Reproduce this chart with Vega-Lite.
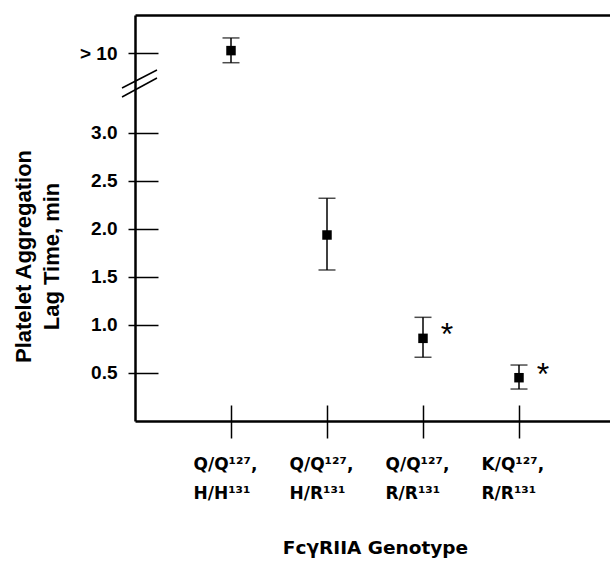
{
  "$schema": "https://vega.github.io/schema/vega-lite/v6.json",
  "autosize": "none",
  "padding": {"left": 135, "top": 15, "right": 0, "bottom": 141},
  "width": 480,
  "height": 406,
  "datasets": {
    "obs": [
      {"genotype": "Q/Q127, H/H131", "lag": 3.858, "lo": 3.732, "hi": 3.99, "sig": ""},
      {"genotype": "Q/Q127, H/R131", "lag": 1.9375, "lo": 1.573, "hi": 2.32, "sig": ""},
      {"genotype": "Q/Q127, R/R131", "lag": 0.861, "lo": 0.664, "hi": 1.08, "sig": "*"},
      {"genotype": "K/Q127, R/R131", "lag": 0.451, "lo": 0.333, "hi": 0.583, "sig": "*"}
    ],
    "brk": [
      {"x": -0.135, "y": 3.375, "x2": 0.229, "y2": 3.573},
      {"x": -0.135, "y": 3.469, "x2": 0.229, "y2": 3.656}
    ]
  },
  "resolve": {"axis": {"x": "independent", "y": "independent"}},
  "layer": [
    {
      "data": {"name": "obs"},
      "transform": [{"window": [{"op": "row_number", "as": "idx"}]}],
      "mark": {"type": "rule", "color": "black", "strokeWidth": 1.5},
      "encoding": {
        "x": {
          "field": "idx", "type": "quantitative",
          "scale": {"domain": [0, 5], "nice": false, "zero": false},
          "axis": {
            "orient": "bottom", "values": [1, 2, 3, 4], "tickSize": 17, "tickWidth": 1.5,
            "domainWidth": 2.5, "labelFont": "DejaVu Sans", "labelFontSize": 17, "labelPadding": 18,
            "labelAlign": "left", "labelOffset": -38, "labelLineHeight": 29,
            "labelExpr": "datum.value == 1 ? ['Q/Q¹²⁷,', 'H/H¹³¹'] : datum.value == 2 ? ['Q/Q¹²⁷,', 'H/R¹³¹'] : datum.value == 3 ? ['Q/Q¹²⁷,', 'R/R¹³¹'] : ['K/Q¹²⁷,', 'R/R¹³¹']",
            "title": "FcγRIIA Genotype", "titleFont": "DejaVu Sans", "titleFontSize": 18.5, "titleX": 240, "titleY": 132,
            "titleBaseline": "alphabetic", "titleAlign": "center"
          }
        },
        "y": {
          "field": "lo", "type": "quantitative",
          "scale": {"domain": [0, 4.229], "nice": false, "zero": false},
          "axis": {
            "orient": "left", "values": [0.5, 1, 1.5, 2, 2.5, 3, 3.833], "tickSize": 7, "tickWidth": 1.5,
            "domainWidth": 2.5, "labelFontSize": 19, "labelPadding": 11,
            "labelExpr": "datum.value > 3.5 ? '> 10' : format(datum.value, '.1f')",
            "title": ["Platelet Aggregation", "Lag Time, min"], "titleFontSize": 22,
            "titleAngle": -90, "titleAlign": "center", "titleBaseline": "alphabetic",
            "titleX": -105, "titleY": 241, "titleLineHeight": 28
          }
        },
        "y2": {"field": "hi"}
      }
    },
    {
      "data": {"name": "obs"},
      "transform": [{"window": [{"op": "row_number", "as": "idx"}]}],
      "mark": {"type": "tick", "orient": "horizontal", "color": "black", "thickness": 1.5, "size": 17},
      "encoding": {
        "x": {
          "field": "idx", "type": "quantitative",
          "axis": {"orient": "bottom", "values": [1, 2, 3, 4], "tickSize": -16, "tickWidth": 1.5, "labels": false, "domain": false, "title": null}
        },
        "y": {
          "field": "lo", "type": "quantitative",
          "axis": {"orient": "left", "values": [0.5, 1, 1.5, 2, 2.5, 3, 3.833], "tickSize": -23, "tickWidth": 1.5, "labels": false, "domain": false, "title": null}
        }
      }
    },
    {
      "data": {"name": "obs"},
      "transform": [{"window": [{"op": "row_number", "as": "idx"}]}],
      "mark": {"type": "tick", "orient": "horizontal", "color": "black", "thickness": 1.5, "size": 17},
      "encoding": {
        "x": {
          "field": "idx", "type": "quantitative",
          "axis": {"orient": "top", "ticks": false, "labels": false, "domain": true, "domainWidth": 2.5, "title": null}
        },
        "y": {"field": "hi", "type": "quantitative", "axis": null}
      }
    },
    {
      "data": {"name": "obs"},
      "transform": [{"window": [{"op": "row_number", "as": "idx"}]}],
      "mark": {"type": "square", "color": "black", "filled": true, "opacity": 1, "size": 90},
      "encoding": {
        "x": {"field": "idx", "type": "quantitative", "axis": null},
        "y": {"field": "lag", "type": "quantitative", "axis": null}
      }
    },
    {
      "data": {"name": "obs"},
      "transform": [{"window": [{"op": "row_number", "as": "idx"}]}, {"filter": "datum.sig != ''"}],
      "mark": {"type": "text", "color": "black", "fontSize": 32, "font": "Liberation Sans", "baseline": "middle", "align": "center", "dx": 24, "dy": -3},
      "encoding": {
        "x": {"field": "idx", "type": "quantitative", "axis": null},
        "y": {"field": "lag", "type": "quantitative", "axis": null},
        "text": {"field": "sig"}
      }
    },
    {
      "data": {"name": "brk"},
      "mark": {"type": "rule", "color": "black", "strokeWidth": 1.5},
      "encoding": {
        "x": {"field": "x", "type": "quantitative", "axis": null},
        "x2": {"field": "x2"},
        "y": {"field": "y", "type": "quantitative", "axis": null},
        "y2": {"field": "y2"}
      }
    }
  ],
  "config": {
    "view": {"stroke": null},
    "font": "Liberation Sans",
    "axis": {
      "grid": false,
      "labelFont": "Liberation Sans", "labelFontWeight": "bold", "labelColor": "black",
      "titleFont": "Liberation Sans", "titleFontWeight": "bold", "titleColor": "black",
      "domainColor": "black", "tickColor": "black"
    }
  }
}
